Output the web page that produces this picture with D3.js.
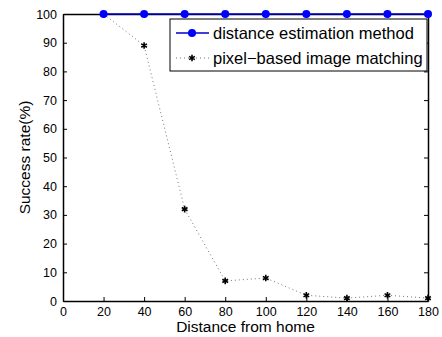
<!DOCTYPE html>
<html>
<head>
<meta charset="utf-8">
<script src="https://cdn.jsdelivr.net/npm/d3@7"></script>
<style>
  body { margin: 0; background: #fff; }
  text { font-family: "Liberation Sans", Arial, sans-serif; fill: #000; }
</style>
</head>
<body>
<div id="wrapper"></div>
<script>
// data
const distances = [20, 40, 60, 80, 100, 120, 140, 160, 180]
const estimationRate = [100, 100, 100, 100, 100, 100, 100, 100, 100]
const matchingRate = [100, 89, 32, 7, 8, 2, 1, 2, 1]
const xTicks = [0, 20, 40, 60, 80, 100, 120, 140, 160, 180]
const yTicks = [0, 10, 20, 30, 40, 50, 60, 70, 80, 90, 100]
const seriesNames = ["distance estimation method", "pixel\u2212based image matching"]

const width = 442
const height = 337
const margin = { top: 14, right: 14, bottom: 36, left: 63 }
const boundedWidth = width - margin.left - margin.right
const boundedHeight = height - margin.top - margin.bottom

const svg = d3.select("#wrapper").append("svg")
  .attr("width", width)
  .attr("height", height)

const bounds = svg.append("g")
  .attr("transform", `translate(${margin.left},${margin.top})`)

const x = d3.scaleLinear().domain([0, 180]).range([0, boundedWidth])
const y = d3.scaleLinear().domain([0, 100]).range([boundedHeight, 0])

// matlab style box with inward ticks on all sides
const tickLen = 4
bounds.append("g")
  .attr("transform", `translate(0,${boundedHeight})`)
  .call(d3.axisBottom(x).tickValues(xTicks).tickSizeInner(-tickLen).tickSizeOuter(0).tickPadding(6))
bounds.append("g")
  .call(d3.axisTop(x).tickValues(xTicks).tickSizeInner(-tickLen).tickSizeOuter(0).tickFormat(""))
bounds.append("g")
  .call(d3.axisLeft(y).tickValues(yTicks).tickSizeInner(-tickLen).tickSizeOuter(0).tickPadding(6))
bounds.append("g")
  .attr("transform", `translate(${boundedWidth},0)`)
  .call(d3.axisRight(y).tickValues(yTicks).tickSizeInner(-tickLen).tickSizeOuter(0).tickFormat(""))

bounds.selectAll(".domain").attr("stroke", "#000").attr("stroke-width", 1.5)
bounds.selectAll(".tick line").attr("stroke", "#000")
bounds.selectAll(".tick text").style("font-size", "12.5px").attr("fill", "#000")

// series 2: dotted line with star markers
const line = d3.line()
  .x((d, i) => x(distances[i]))
  .y(d => y(d))

bounds.append("path")
  .datum(matchingRate)
  .attr("fill", "none")
  .attr("stroke", "#777")
  .attr("stroke-width", 1)
  .attr("stroke-dasharray", "1,3")
  .attr("d", line)

const star = d3.symbol().type(d3.symbolAsterisk).size(30)
bounds.selectAll(".star")
  .data(matchingRate)
  .enter().append("path")
  .attr("class", "star")
  .attr("transform", (d, i) => `translate(${x(distances[i])},${y(d)})`)
  .attr("d", star)
  .attr("fill", "none")
  .attr("stroke", "#000")
  .attr("stroke-width", 1.6)

// series 1: solid blue line with dots
bounds.append("path")
  .datum(estimationRate)
  .attr("fill", "none")
  .attr("stroke", "#0000cc")
  .attr("stroke-width", 1.5)
  .attr("d", line)

bounds.selectAll(".dot")
  .data(estimationRate)
  .enter().append("circle")
  .attr("class", "dot")
  .attr("cx", (d, i) => x(distances[i]))
  .attr("cy", d => y(d))
  .attr("r", 4)
  .attr("fill", "#0000ff")

// axis labels
svg.append("text")
  .attr("x", margin.left + boundedWidth / 2)
  .attr("y", 332)
  .attr("text-anchor", "middle")
  .style("font-size", "15.5px")
  .text("Distance from home")

svg.append("text")
  .attr("transform", `translate(30,${margin.top + boundedHeight / 2}) rotate(-90)`)
  .attr("text-anchor", "middle")
  .style("font-size", "15.5px")
  .text("Success rate(%)")

// legend
const legend = svg.append("g").attr("transform", "translate(170,19)")
legend.append("rect")
  .attr("width", 257)
  .attr("height", 52)
  .attr("fill", "#fff")
  .attr("stroke", "#000")
  .attr("stroke-width", 1)

legend.append("line")
  .attr("x1", 6).attr("x2", 39).attr("y1", 14).attr("y2", 14)
  .attr("stroke", "#0000cc").attr("stroke-width", 1.5)
legend.append("circle")
  .attr("cx", 22).attr("cy", 14).attr("r", 4).attr("fill", "#0000ff")

legend.append("line")
  .attr("x1", 6).attr("x2", 39).attr("y1", 39).attr("y2", 39)
  .attr("stroke", "#777").attr("stroke-dasharray", "1,3")
legend.append("path")
  .attr("transform", "translate(22,39)")
  .attr("d", star)
  .attr("fill", "none").attr("stroke", "#000").attr("stroke-width", 1.6)

legend.selectAll(".legend-label")
  .data(seriesNames)
  .enter().append("text")
  .attr("class", "legend-label")
  .attr("x", 43)
  .attr("y", (d, i) => 14 + i * 25)
  .attr("dy", "0.35em")
  .style("font-size", "16.5px")
  .text(d => d)
</script>
</body>
</html>
